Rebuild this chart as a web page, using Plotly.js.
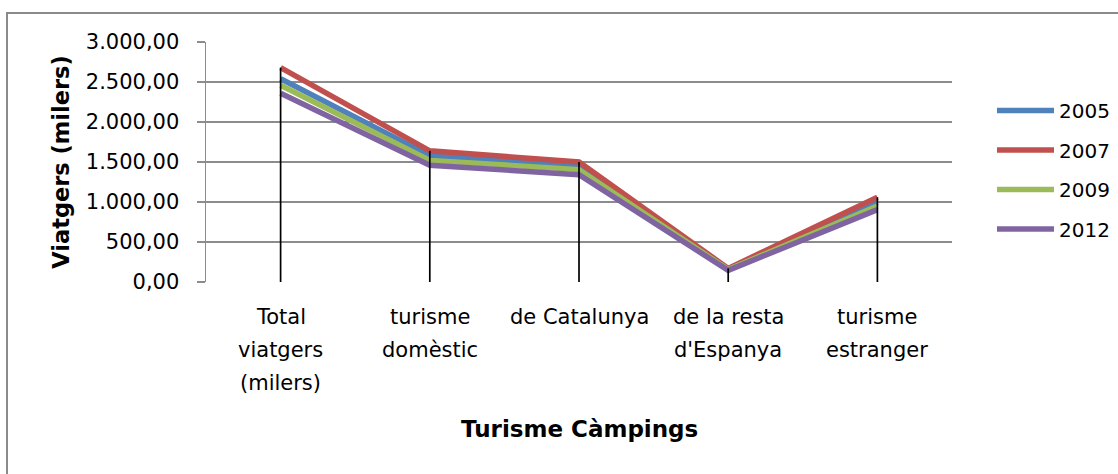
<!DOCTYPE html>
<html>
<head>
<meta charset="utf-8">
<script src="https://cdn.plot.ly/plotly-3.0.1.min.js"></script>
<style>
  html, body { margin: 0; padding: 0; background: #fff; }
  #wrap { position: relative; width: 1118px; height: 474px; overflow: hidden; }
  #chart { width: 1118px; height: 474px; }
  #frame { position: absolute; left: 6px; top: 12px; width: 1120px; height: 500px;
           border: 2px solid #8a8a8a; box-sizing: border-box; pointer-events: none; }
</style>
</head>
<body>
<div id="wrap"><div id="chart"></div><div id="frame"></div></div>
<script>
// ---- data ----
const categories = ["Total viatgers (milers)", "turisme domèstic", "de Catalunya", "de la resta d'Espanya", "turisme estranger"];
const tickLines = [["Total", "viatgers", "(milers)"], ["turisme", "domèstic"], ["de Catalunya"], ["de la resta", "d'Espanya"], ["turisme", "estranger"]];
const seriesNames = ["2005", "2007", "2009", "2012"];
const v2005 = [2540, 1580, 1450, 160, 995];
const v2007 = [2680, 1640, 1500, 170, 1060];
const v2009 = [2460, 1520, 1405, 155, 950];
const v2012 = [2360, 1460, 1340, 145, 905];
const seriesValues = [v2005, v2007, v2009, v2012];
const colors = ["#4F81BD", "#C0504D", "#9BBB59", "#8064A2"];
const yTitle = "Viatgers (milers)";
const xTitle = "Turisme Càmpings";

const FONT = "DejaVu Sans, sans-serif";

const traces = seriesNames.map((n, i) => ({
  type: "scatter", mode: "lines", name: n, x: categories, y: seriesValues[i],
  line: { color: colors[i], width: 5.5 }, legendgroup: n
}));

// drop lines from the highest value down to the axis
const dx = [], dy = [];
categories.forEach((c, k) => {
  const m = Math.max(...seriesValues.map(s => s[k]));
  dx.push(c, c, null); dy.push(0, m, null);
});
traces.push({ type: "scatter", mode: "lines", x: dx, y: dy, showlegend: false,
  line: { color: "#000", width: 1.7 }, connectgaps: false });

const annotations = [];
categories.forEach((c, k) => {
  tickLines[k].forEach((t, j) => {
    annotations.push({ x: c, xref: "x", y: 0, yref: "paper", yanchor: "middle",
      yshift: -(35 + j * 33), text: t, showarrow: false,
      font: { family: FONT, size: 21, color: "#000" } });
  });
});
annotations.push({ x: 0.5, xref: "paper", y: 0, yref: "paper", yanchor: "middle",
  yshift: -147, text: "<b>" + xTitle + "</b>", showarrow: false,
  font: { family: FONT, size: 23, color: "#000" } });

const layout = {
  width: 1118, height: 474,
  margin: { l: 206, r: 166, t: 42, b: 192, autoexpand: false },
  paper_bgcolor: "#fff", plot_bgcolor: "#fff",
  separators: ",.",
  showlegend: true,
  legend: { x: 1.0536, xanchor: "left", y: 0.796, yanchor: "top",
    font: { family: FONT, size: 20, color: "#000" },
    traceorder: "grouped", tracegroupgap: 10.5, itemwidth: 57, bgcolor: "rgba(0,0,0,0)" },
  xaxis: { type: "category", showgrid: false, showticklabels: false, zeroline: false,
    showline: false, ticks: "", range: [-0.5, 4.5], fixedrange: true },
  yaxis: { range: [0, 3000], dtick: 500, tick0: 0, tickformat: ",.2f", separatethousands: true,
    showgrid: true, gridcolor: "#8c8c8c", gridwidth: 1.5, zeroline: false,
    showline: true, linecolor: "#8c8c8c", linewidth: 1.5,
    ticks: "outside", ticklen: 8, tickcolor: "#8c8c8c", tickwidth: 1.5,
    ticklabelstandoff: 13,
    tickfont: { family: FONT, size: 21, color: "#000" },
    title: { text: "<b>" + yTitle + "</b>", standoff: 10, font: { family: FONT, size: 22.5, color: "#000" } },
    fixedrange: true },
  annotations: annotations,
  hovermode: false
};

Plotly.newPlot("chart", traces, layout, { displayModeBar: false, staticPlot: true });
</script>
</body>
</html>
